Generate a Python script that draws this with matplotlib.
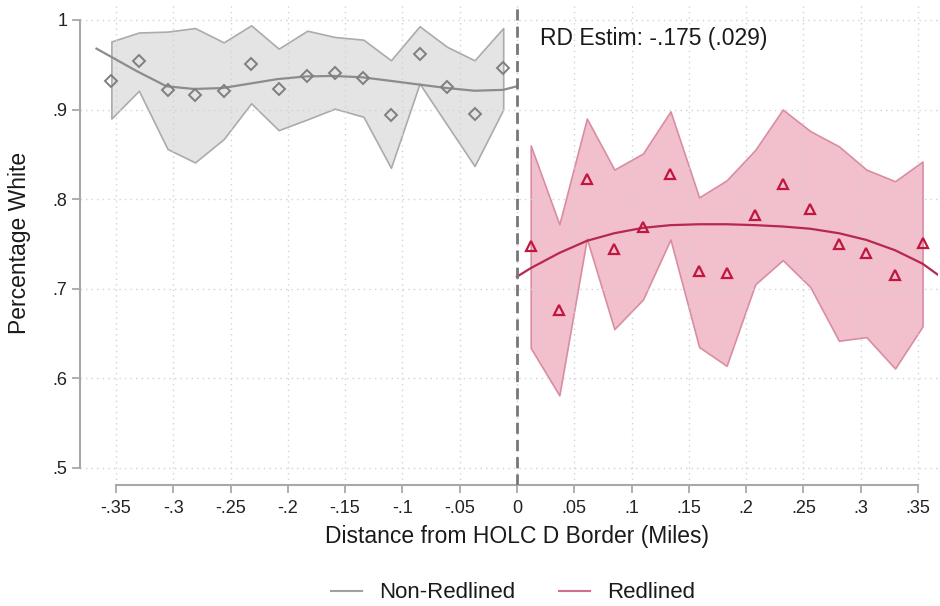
import matplotlib
matplotlib.use("Agg")
import matplotlib.pyplot as plt
from matplotlib.lines import Line2D

plt.rcParams['font.family'] = ['Liberation Sans', 'DejaVu Sans']

# ---- data ----
left_x = [-0.354, -0.330, -0.305, -0.281, -0.256, -0.232, -0.208, -0.183,
          -0.159, -0.134, -0.110, -0.085, -0.061, -0.037, -0.012]
left_mean = [0.932, 0.954, 0.922, 0.916, 0.921, 0.951, 0.923, 0.938,
             0.941, 0.935, 0.894, 0.962, 0.925, 0.895, 0.946]
left_hi = [0.976, 0.986, 0.987, 0.991, 0.975, 0.994, 0.968, 0.988,
           0.981, 0.978, 0.955, 0.993, 0.970, 0.955, 0.991]
left_lo = [0.890, 0.921, 0.856, 0.841, 0.867, 0.907, 0.877, 0.889,
           0.901, 0.892, 0.835, 0.929, 0.883, 0.837, 0.900]

right_x = [0.012, 0.037, 0.061, 0.085, 0.110, 0.134, 0.159, 0.183,
           0.208, 0.232, 0.256, 0.281, 0.305, 0.330, 0.354]
right_mean = [0.748, 0.676, 0.823, 0.744, 0.769, 0.828, 0.720, 0.718,
              0.782, 0.817, 0.789, 0.750, 0.740, 0.715, 0.751]
right_hi = [0.860, 0.772, 0.890, 0.833, 0.851, 0.898, 0.802, 0.821,
            0.855, 0.900, 0.876, 0.859, 0.833, 0.820, 0.842]
right_lo = [0.634, 0.581, 0.756, 0.655, 0.688, 0.755, 0.635, 0.614,
            0.705, 0.732, 0.702, 0.642, 0.646, 0.611, 0.658]

# fitted polynomial curves
left_fit_x = [-0.367, -0.332, -0.306, -0.282, -0.257, -0.233, -0.209, -0.184,
              -0.160, -0.135, -0.110, -0.086, -0.061, -0.037, -0.012, 0.0]
left_fit_y = [0.968, 0.943, 0.926, 0.923, 0.924, 0.929, 0.934, 0.937,
              0.9375, 0.936, 0.932, 0.928, 0.924, 0.921, 0.922, 0.926]
right_fit_x = [0.0, 0.012, 0.037, 0.061, 0.085, 0.110, 0.134, 0.159, 0.183,
               0.208, 0.232, 0.256, 0.281, 0.305, 0.330, 0.354, 0.367]
right_fit_y = [0.7135, 0.723, 0.740, 0.7535, 0.762, 0.768, 0.771, 0.772, 0.772,
               0.771, 0.7695, 0.767, 0.762, 0.7545, 0.743, 0.728, 0.716]

x_ticks = [-0.35, -0.3, -0.25, -0.2, -0.15, -0.1, -0.05, 0, 0.05, 0.1,
           0.15, 0.2, 0.25, 0.3, 0.35]
x_ticklabels = ['-.35', '-.3', '-.25', '-.2', '-.15', '-.1', '-.05', '0',
                '.05', '.1', '.15', '.2', '.25', '.3', '.35']
y_ticks = [0.5, 0.6, 0.7, 0.8, 0.9, 1.0]
y_ticklabels = ['.5', '.6', '.7', '.8', '.9', '1']

annotation = 'RD Estim: -.175 (.029)'
series_names = ['Non-Redlined', 'Redlined']

# ---- styling ----
GREY_FILL = '#e4e4e4'
GREY_EDGE = '#ababab'
GREY_LINE = '#8c8c8c'
GREY_MARK = '#7f7f7f'
PINK_FILL = '#f2bfcc'
PINK_EDGE = '#d98da3'
RED_LINE = '#b5284f'
RED_MARK = '#c0173f'

fig = plt.figure(figsize=(9.4, 6.06), dpi=100)
ax = fig.add_axes([80 / 940, (606 - 485) / 606, (938 - 80) / 940, (485 - 5) / 606])

ax.set_xlim(-0.3814, 0.3675)
ax.set_ylim(0.4810, 1.0167)

# CI bands
ax.fill_between(left_x, left_lo, left_hi, facecolor=GREY_FILL,
                edgecolor=GREY_EDGE, linewidth=1.2, zorder=1)
ax.fill_between(right_x, right_lo, right_hi, facecolor=PINK_FILL,
                edgecolor=PINK_EDGE, linewidth=1.2, zorder=1)

# fitted curves
ax.plot(left_fit_x, left_fit_y, color=GREY_LINE, lw=1.6, zorder=3)
ax.plot(right_fit_x, right_fit_y, color=RED_LINE, lw=1.6, zorder=3)

# binned means
ax.plot(left_x, left_mean, linestyle='none', marker='D', ms=6.5,
        mfc='none', mec=GREY_MARK, mew=1.4, zorder=4)
ax.plot(right_x, right_mean, linestyle='none', marker='^', ms=7,
        mfc='none', mec=RED_MARK, mew=1.6, zorder=4)

# cutoff
ax.axvline(0, color='#777777', lw=2, linestyle=(0, (4, 2.2)), zorder=5)

# annotation
ax.text(0.020, 0.979, annotation, fontsize=16.5, color='#1a1a1a',
        ha='left', va='center', zorder=6)

# grid
ax.set_axisbelow('line')
ax.set_xticks(x_ticks)
ax.set_xticklabels(x_ticklabels)
ax.set_yticks(y_ticks)
ax.set_yticklabels(y_ticklabels)
ax.grid(True, color='#d2d2d2', linestyle=(0, (1, 3)), linewidth=1.0)

# spines
for s in ['top', 'right']:
    ax.spines[s].set_visible(False)
ax.spines['left'].set_bounds(0.5, 1.0)
ax.spines['bottom'].set_bounds(-0.35, 0.35)
for s in ['left', 'bottom']:
    ax.spines[s].set_color('#a8a8a8')
    ax.spines[s].set_linewidth(1.5)

ax.tick_params(axis='both', direction='out', length=6, width=1.3,
               color='#a8a8a8', labelcolor='#222222', labelsize=13)
ax.tick_params(axis='x', pad=5)
ax.tick_params(axis='y', pad=3)

ax.set_xlabel('Distance from HOLC D Border (Miles)', fontsize=16.5,
              color='#1a1a1a', va='center')
ax.xaxis.set_label_coords((517 - 80) / 858, (485 - 537) / 480)
ax.set_ylabel('Percentage White', fontsize=16.5, color='#1a1a1a', va='center')
ax.yaxis.set_label_coords((20 - 80) / 858, (485 - 243) / 480)

# legend
handles = [Line2D([], [], color='#a0a0a0', lw=1.5),
           Line2D([], [], color='#cf6f8a', lw=1.5)]
fig.legend(handles, series_names, loc='center', ncol=2,
           bbox_to_anchor=(513 / 940, 13 / 606), frameon=False,
           fontsize=16, handlelength=1.4, handletextpad=0.75,
           columnspacing=2.0, labelcolor='#1a1a1a')

fig.savefig('out.png', dpi=100)
